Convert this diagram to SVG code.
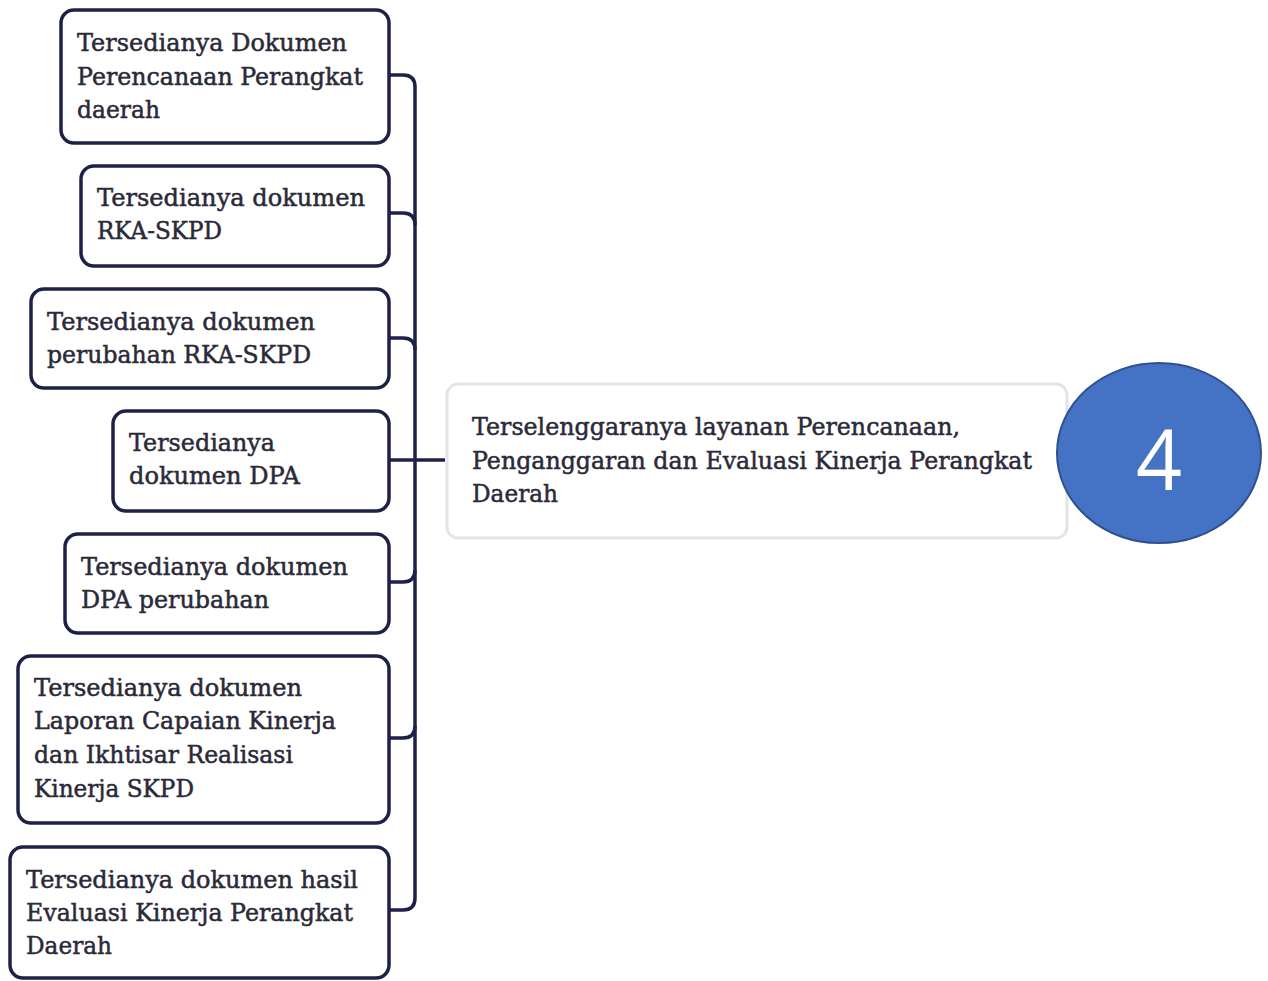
<svg xmlns="http://www.w3.org/2000/svg" width="1268" height="981" viewBox="0 0 1268 981">
<style>
.box{fill:#fff;stroke:#1e2147;stroke-width:3.5}
.main{fill:#fff;stroke:#e4e4e6;stroke-width:3}
.t{font-family:"DejaVu Serif","Liberation Serif",serif;font-size:24px;fill:#2a2a38;stroke:#2a2a38;stroke-width:0.5}
.conn{fill:none;stroke:#1e2147;stroke-width:3.5}
</style>
<rect width="1268" height="981" fill="#fff"/>
<g id="connectors">
<path class="conn" d="M389,75 H403 Q415,75 415,87 V898 Q415,910 403,910 H389"/>
<path class="conn" d="M389,213 H403 Q415,213 415,225"/>
<path class="conn" d="M389,338 H403 Q415,338 415,350"/>
<path class="conn" d="M389,460 H445"/>
<path class="conn" d="M389,582 H403 Q415,582 415,570"/>
<path class="conn" d="M389,738 H403 Q415,738 415,726"/>
</g>
<g id="n1">
<rect class="box" x="61" y="10" width="328" height="133" rx="13"/>
<text class="t" x="77" y="51" textLength="270" lengthAdjust="spacingAndGlyphs">Tersedianya Dokumen</text>
<text class="t" x="77" y="85" textLength="286" lengthAdjust="spacingAndGlyphs">Perencanaan Perangkat</text>
<text class="t" x="77" y="118" textLength="83" lengthAdjust="spacingAndGlyphs">daerah</text>
</g>
<g id="n2">
<rect class="box" x="81" y="166" width="308" height="100" rx="13"/>
<text class="t" x="97" y="206" textLength="268" lengthAdjust="spacingAndGlyphs">Tersedianya dokumen</text>
<text class="t" x="97" y="239" textLength="125" lengthAdjust="spacingAndGlyphs">RKA-SKPD</text>
</g>
<g id="n3">
<rect class="box" x="31" y="289" width="358" height="99" rx="13"/>
<text class="t" x="47" y="330" textLength="268" lengthAdjust="spacingAndGlyphs">Tersedianya dokumen</text>
<text class="t" x="47" y="363" textLength="264" lengthAdjust="spacingAndGlyphs">perubahan RKA-SKPD</text>
</g>
<g id="n4">
<rect class="box" x="113" y="411" width="276" height="100" rx="13"/>
<text class="t" x="129" y="451" textLength="146" lengthAdjust="spacingAndGlyphs">Tersedianya</text>
<text class="t" x="129" y="484" textLength="171" lengthAdjust="spacingAndGlyphs">dokumen DPA</text>
</g>
<g id="n5">
<rect class="box" x="65" y="534" width="324" height="99" rx="13"/>
<text class="t" x="81" y="575" textLength="267" lengthAdjust="spacingAndGlyphs">Tersedianya dokumen</text>
<text class="t" x="81" y="608" textLength="188" lengthAdjust="spacingAndGlyphs">DPA perubahan</text>
</g>
<g id="n6">
<rect class="box" x="18" y="656" width="371" height="167" rx="13"/>
<text class="t" x="34" y="696" textLength="268" lengthAdjust="spacingAndGlyphs">Tersedianya dokumen</text>
<text class="t" x="34" y="729" textLength="302" lengthAdjust="spacingAndGlyphs">Laporan Capaian Kinerja</text>
<text class="t" x="34" y="763" textLength="259" lengthAdjust="spacingAndGlyphs">dan Ikhtisar Realisasi</text>
<text class="t" x="34" y="797" textLength="160" lengthAdjust="spacingAndGlyphs">Kinerja SKPD</text>
</g>
<g id="n7">
<rect class="box" x="10" y="847" width="379" height="131" rx="13"/>
<text class="t" x="26" y="888" textLength="332" lengthAdjust="spacingAndGlyphs">Tersedianya dokumen hasil</text>
<text class="t" x="26" y="921" textLength="327" lengthAdjust="spacingAndGlyphs">Evaluasi Kinerja Perangkat</text>
<text class="t" x="26" y="954" textLength="86" lengthAdjust="spacingAndGlyphs">Daerah</text>
</g>
<g id="main">
<rect class="main" x="447" y="384" width="620" height="154" rx="11"/>
<text class="t" x="472" y="435" textLength="488" lengthAdjust="spacingAndGlyphs">Terselenggaranya layanan Perencanaan,</text>
<text class="t" x="472" y="469" textLength="560" lengthAdjust="spacingAndGlyphs">Penganggaran dan Evaluasi Kinerja Perangkat</text>
<text class="t" x="472" y="502" textLength="86" lengthAdjust="spacingAndGlyphs">Daerah</text>
</g>
<g id="badge">
<ellipse cx="1159" cy="453" rx="102" ry="90" fill="#4472C4" stroke="#2F528F" stroke-width="2"/>
<text x="1159" y="490" text-anchor="middle" font-family="'Open Sans','Liberation Sans',sans-serif" font-size="84" fill="#fff" textLength="46" lengthAdjust="spacingAndGlyphs">4</text>
</g>
</svg>
